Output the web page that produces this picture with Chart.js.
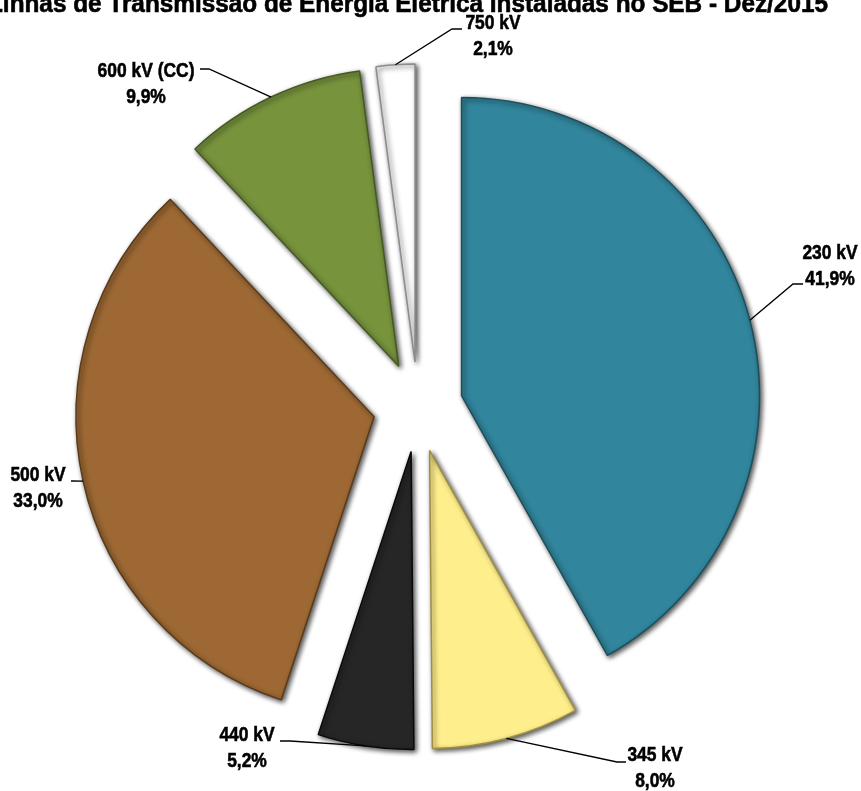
<!DOCTYPE html>
<html>
<head>
<meta charset="utf-8">
<title>Linhas de Transmissão - SEB</title>
<script src="https://cdn.jsdelivr.net/npm/chart.js@4/dist/chart.umd.min.js"></script>
<style>
  html, body { margin: 0; padding: 0; background: #fff; }
  #wrap { width: 861px; height: 791px; position: relative; }
</style>
</head>
<body>
<div id="wrap"><canvas id="myChart" width="861" height="791"></canvas></div>
<script>
'use strict';

var chartTitle = 'Linhas de Transmissão de Energia Elétrica Instaladas no SEB - Dez/2015';
var voltageLabels = ['230 kV', '345 kV', '440 kV', '500 kV', '600 kV (CC)', '750 kV'];
var sharePercent = [41.9, 8.0, 5.2, 33.0, 9.9, 2.1];

(function () {
  var sliceColors = ['#31859C', '#FFEF8C', '#262626', '#9D6833', '#77933C', '#FFFFFF'];
  var edgeColors = ['#1C4F5D', '#9E8F45', '#0A0A0A', '#5A3A1A', '#455A22', '#8C8C8C'];

  // label text centre (x, first line y) and leader elbow / stub end
  var labelPos = [
    { x: 830, y: 253, elbow: [793, 284], stub: [803, 284] },
    { x: 655, y: 755, elbow: [617, 762], stub: [626, 762] },
    { x: 247, y: 735, elbow: [290, 741], stub: [280, 741] },
    { x: 38,  y: 475, elbow: [72, 481],  stub: [71, 481] },
    { x: 146, y: 71,  elbow: [209, 69],  stub: [200, 69] },
    { x: 493, y: 23,  elbow: [452, 29],  stub: [462, 29] }
  ];

  var explode = 45;
  var lineGap = 26;
  var fontFamily = "'Liberation Sans', Arial, sans-serif";

  function fmtPct(v) {
    return v.toFixed(1).replace('.', ',') + '%';
  }

  function narrowText(ctx, txt, cx, cy, size, squeeze) {
    ctx.save();
    ctx.font = 'bold ' + size + 'px ' + fontFamily;
    ctx.textAlign = 'center';
    ctx.textBaseline = 'middle';
    ctx.fillStyle = '#000';
    ctx.strokeStyle = '#000';
    ctx.lineWidth = 0.6;
    ctx.translate(cx, cy);
    ctx.scale(squeeze, 1);
    ctx.fillText(txt, 0, 0);
    ctx.strokeText(txt, 0, 0);
    ctx.restore();
  }

  // move every slice outward along its mid angle, same distance for all
  var explodePlugin = {
    id: 'explodeSlices',
    afterDatasetsUpdate: function (chart) {
      var arcs = chart.getDatasetMeta(0).data;
      for (var i = 0; i < arcs.length; i++) {
        var a = arcs[i];
        var mid = (a.startAngle + a.endAngle) / 2;
        a.x = a.x + Math.cos(mid) * explode;
        a.y = a.y + Math.sin(mid) * explode;
      }
    },
    beforeDatasetsDraw: function (chart) {
      var ctx = chart.ctx;
      ctx.save();
      ctx.shadowColor = 'rgba(0, 0, 0, 0.7)';
      ctx.shadowBlur = 5;
      ctx.shadowOffsetX = 2;
      ctx.shadowOffsetY = 2;
    },
    afterDatasetsDraw: function (chart) {
      chart.ctx.restore();
    }
  };

  var labelPlugin = {
    id: 'sliceLabels',
    afterDraw: function (chart) {
      var ctx = chart.ctx;
      var arcs = chart.getDatasetMeta(0).data;

      // title, partly outside the picture as in the source
      ctx.save();
      ctx.font = 'bold 25px ' + fontFamily;
      var w = ctx.measureText(chartTitle).width;
      ctx.restore();
      narrowText(ctx, chartTitle, 408, 5, 25, 840 / w);

      for (var i = 0; i < arcs.length; i++) {
        var a = arcs[i];
        var mid = (a.startAngle + a.endAngle) / 2;
        var sx = a.x + Math.cos(mid) * a.outerRadius;
        var sy = a.y + Math.sin(mid) * a.outerRadius;
        var p = labelPos[i];

        ctx.save();
        ctx.strokeStyle = '#000';
        ctx.lineWidth = 1.3;
        ctx.beginPath();
        ctx.moveTo(sx, sy);
        ctx.lineTo(p.elbow[0], p.elbow[1]);
        ctx.lineTo(p.stub[0], p.stub[1]);
        ctx.stroke();
        ctx.restore();

        narrowText(ctx, voltageLabels[i], p.x, p.y, 21, 0.83);
        narrowText(ctx, fmtPct(sharePercent[i]), p.x, p.y + lineGap, 21, 0.83);
      }
    }
  };

  var ctx = document.getElementById('myChart').getContext('2d');

  var myPieChart = new Chart(ctx, {
    type: 'pie',
    data: {
      labels: voltageLabels,
      datasets: [{
        data: sharePercent,
        backgroundColor: sliceColors,
        borderColor: edgeColors,
        borderWidth: 1.5,
        hoverOffset: 0
      }]
    },
    options: {
      responsive: false,
      animation: false,
      radius: 298,
      layout: { padding: { left: 0, right: 25, top: 23, bottom: 0 } },
      plugins: {
        legend: { display: false },
        tooltip: { enabled: false },
        title: { display: false }
      }
    },
    plugins: [explodePlugin, labelPlugin]
  });
})();
</script>
</body>
</html>
